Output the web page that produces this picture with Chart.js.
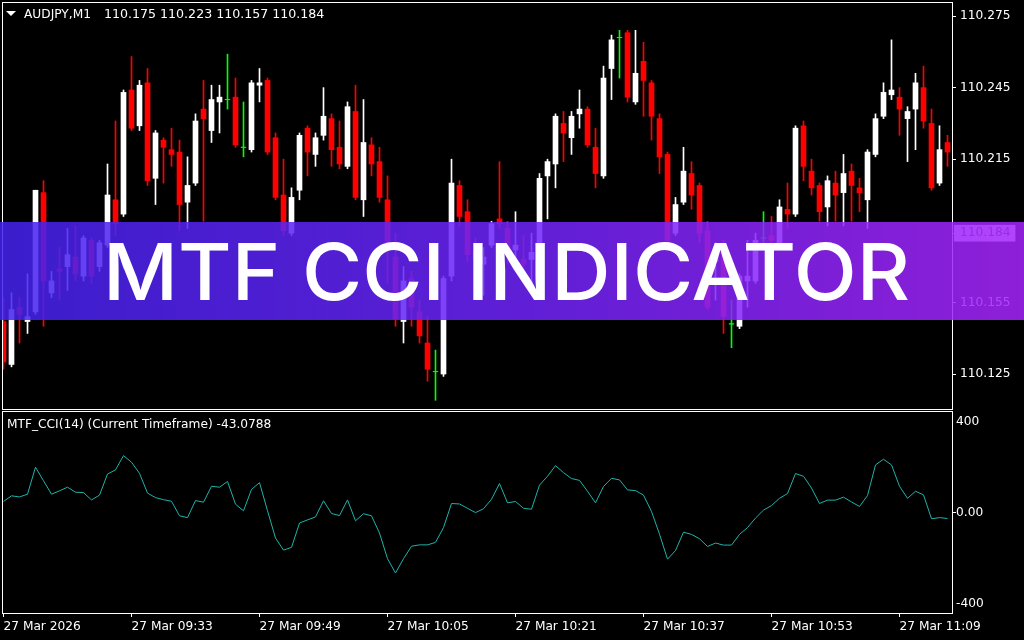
<!DOCTYPE html>
<html>
<head>
<meta charset="utf-8">
<script src="https://cdn.jsdelivr.net/npm/chart.js@4.4.1/dist/chart.umd.min.js"></script>
<style>
    html, body { margin: 0; padding: 0; background: #000; width: 1024px; height: 640px; overflow: hidden; }
    #wrap { position: relative; width: 1024px; height: 640px; }
    canvas { position: absolute; left: 0; }
    #mainChart { top: 0; }
    #cciChart { top: 410px; }
    .lbl { position: absolute; color: #fff; font: 12.2px "DejaVu Sans", sans-serif; line-height: 16px; white-space: pre; }
    #tri { position: absolute; left: 6px; top: 11px; width: 0; height: 0;
           border-left: 5px solid transparent; border-right: 5px solid transparent; border-top: 5px solid #fff; }
    #banner { position: absolute; left: 0; top: 222px; width: 1024px; height: 98px;
              background: linear-gradient(90deg, rgba(68,34,238,0.86) 0%, rgba(110,36,249,0.86) 50%, rgba(166,36,252,0.86) 100%); }
    #bannerText { position: absolute; left: 103px; top: 0; color: #fff; white-space: pre; transform-origin: 0 0; }
</style>
</head>
<body>
<div id="wrap">
    <canvas id="mainChart" width="1024" height="412"></canvas>
    <canvas id="cciChart" width="1024" height="230"></canvas>
    <div id="tri"></div>
    <div class="lbl" style="left:24px; top:6px;">AUDJPY,M1</div>
    <div class="lbl" style="left:104px; top:6px; font-size:12.6px;">110.175 110.223 110.157 110.184</div>
    <div class="lbl" style="left:7px; top:416px;">MTF_CCI(14) (Current Timeframe) -43.0788</div>
    <div id="banner"><div id="bannerText">MTF CCI INDICATOR</div></div>
</div>
<script>
// AUDJPY M1 bars, 09:17 .. 11:15
const opens = [
    110.147, 110.129, 110.153, 110.147, 110.151, 110.201, 110.159, 110.169, 110.170, 110.174,
    110.166, 110.181, 110.170, 110.179, 110.198, 110.192, 110.244, 110.229, 110.247, 110.207,
    110.223, 110.219, 110.218, 110.197, 110.205, 110.236, 110.227, 110.239, 110.240, 110.241,
    110.220, 110.219, 110.246, 110.248, 110.224, 110.200, 110.184, 110.202, 110.228, 110.217,
    110.225, 110.232, 110.220, 110.212, 110.235, 110.198, 110.221, 110.214, 110.198, 110.174,
    110.147, 110.165, 110.151, 110.138, 110.126, 110.125, 110.166, 110.204, 110.193, 110.177,
    110.171, 110.179, 110.190, 110.186, 110.177, 110.173, 110.173, 110.176, 110.208, 110.213,
    110.230, 110.224, 110.234, 110.236, 110.220, 110.208, 110.253, 110.266, 110.268, 110.239,
    110.256, 110.247, 110.232, 110.217, 110.184, 110.197, 110.209, 110.204, 110.185, 110.172,
    110.176, 110.146, 110.145, 110.164, 110.164, 110.182, 110.183, 110.180, 110.194, 110.192,
    110.229, 110.210, 110.204, 110.195, 110.205, 110.201, 110.210, 110.203, 110.198, 110.217,
    110.233, 110.242, 110.241, 110.232, 110.236, 110.245, 110.230, 110.205, 110.222
];
const highs = [
    110.157, 110.159, 110.157, 110.167, 110.202, 110.206, 110.168, 110.178, 110.186, 110.187,
    110.183, 110.182, 110.181, 110.213, 110.231, 110.244, 110.258, 110.248, 110.253, 110.227,
    110.224, 110.228, 110.223, 110.216, 110.234, 110.248, 110.246, 110.246, 110.259, 110.249,
    110.239, 110.248, 110.253, 110.249, 110.226, 110.215, 110.203, 110.226, 110.229, 110.226,
    110.245, 110.234, 110.231, 110.239, 110.246, 110.240, 110.224, 110.220, 110.208, 110.184,
    110.170, 110.168, 110.156, 110.149, 110.135, 110.166, 110.215, 110.206, 110.198, 110.182,
    110.178, 110.189, 110.214, 110.189, 110.193, 110.183, 110.184, 110.209, 110.215, 110.234,
    110.235, 110.235, 110.244, 110.237, 110.228, 110.254, 110.267, 110.269, 110.269, 110.269,
    110.264, 110.248, 110.234, 110.218, 110.199, 110.220, 110.214, 110.205, 110.189, 110.180,
    110.181, 110.156, 110.167, 110.181, 110.184, 110.193, 110.191, 110.198, 110.205, 110.229,
    110.231, 110.215, 110.205, 110.208, 110.210, 110.217, 110.213, 110.207, 110.219, 110.234,
    110.247, 110.265, 110.245, 110.237, 110.251, 110.254, 110.236, 110.229, 110.225
];
const lows = [
    110.127, 110.128, 110.138, 110.142, 110.150, 110.145, 110.157, 110.156, 110.160, 110.164,
    110.164, 110.163, 110.168, 110.178, 110.183, 110.191, 110.227, 110.227, 110.204, 110.196,
    110.205, 110.212, 110.185, 110.186, 110.204, 110.189, 110.222, 110.226, 110.236, 110.220,
    110.216, 110.218, 110.239, 110.217, 110.198, 110.183, 110.183, 110.198, 110.208, 110.212,
    110.223, 110.212, 110.211, 110.211, 110.198, 110.191, 110.208, 110.197, 110.163, 110.145,
    110.138, 110.145, 110.138, 110.122, 110.114, 110.124, 110.164, 110.187, 110.172, 110.157,
    110.158, 110.178, 110.186, 110.171, 110.169, 110.163, 110.161, 110.175, 110.190, 110.203,
    110.214, 110.217, 110.228, 110.220, 110.203, 110.207, 110.240, 110.249, 110.239, 110.238,
    110.233, 110.223, 110.209, 110.180, 110.183, 110.196, 110.194, 110.180, 110.152, 110.156,
    110.142, 110.136, 110.144, 110.153, 110.163, 110.180, 110.171, 110.179, 110.186, 110.191,
    110.206, 110.200, 110.189, 110.187, 110.189, 110.187, 110.189, 110.193, 110.186, 110.216,
    110.232, 110.240, 110.225, 110.214, 110.219, 110.228, 110.202, 110.204, 110.212
];
const closes = [
    110.130, 110.152, 110.150, 110.149, 110.202, 110.164, 110.164, 110.168, 110.175, 110.167,
    110.182, 110.166, 110.180, 110.200, 110.188, 110.243, 110.228, 110.246, 110.206, 110.226,
    110.220, 110.217, 110.196, 110.204, 110.231, 110.232, 110.240, 110.241, 110.240, 110.221,
    110.220, 110.247, 110.247, 110.218, 110.199, 110.185, 110.199, 110.225, 110.218, 110.224,
    110.233, 110.219, 110.213, 110.237, 110.199, 110.222, 110.213, 110.199, 110.179, 110.148,
    110.164, 110.153, 110.141, 110.127, 110.126, 110.165, 110.205, 110.191, 110.175, 110.173,
    110.174, 110.188, 110.188, 110.176, 110.179, 110.171, 110.176, 110.207, 110.214, 110.233,
    110.226, 110.233, 110.236, 110.221, 110.209, 110.249, 110.265, 110.266, 110.241, 110.251,
    110.248, 110.233, 110.216, 110.181, 110.196, 110.210, 110.200, 110.184, 110.153, 110.175,
    110.149, 110.146, 110.166, 110.166, 110.181, 110.182, 110.181, 110.195, 110.192, 110.228,
    110.212, 110.203, 110.193, 110.206, 110.200, 110.209, 110.204, 110.201, 110.218, 110.232,
    110.243, 110.244, 110.236, 110.235, 110.247, 110.231, 110.203, 110.219, 110.218
];
// MTF_CCI(14) per bar
const cciValues = [
    50, 75, 70, 82, 201, 141, 82, 97, 113, 91,
    89, 57, 78, 171, 189, 252, 223, 174, 87, 67,
    58, 51, -13, -21, 54, 47, 117, 113, 138, 38,
    9, 103, 133, 9, -111, -164, -152, -45, -31, -18,
    53, -3, -12, 57, -35, -4, -13, -89, -202, -265,
    -202, -147, -141, -141, -130, -65, 41, 39, 20, 1,
    18, 60, 129, 44, 50, 20, 16, 122, 161, 208,
    177, 151, 143, 95, 44, 116, 152, 145, 101, 98,
    78, 6, -94, -204, -166, -85, -95, -114, -148, -133,
    -142, -142, -95, -65, -23, 12, 32, 64, 85, 173,
    161, 109, 41, 56, 56, 69, 48, 28, 76, 211,
    236, 211, 117, 64, 95, 79, -26, -21, -25
];
const timeLabels = ["27 Mar 2026", "27 Mar 09:33", "27 Mar 09:49", "27 Mar 10:05",
                    "27 Mar 10:21", "27 Mar 10:37", "27 Mar 10:53", "27 Mar 11:09"];
const timeTickBars = [0, 16, 32, 48, 64, 80, 96, 112];
const priceTicks = [110.275, 110.245, 110.215, 110.184, 110.155, 110.125];
const currentPrice = 110.184;
const cciTicks = [400, 0, -400];

const BULL = '#ffffff', BEAR = '#ff0000', DOJI = '#00ff00', CCI_COLOR = '#20b2aa';
const labelFont = { family: '"DejaVu Sans", sans-serif', size: 12.2 };
// 8 px per bar over the 949 px plot width
const xMin = -0.0625, xMax = 118.5625;

const bars = opens.map((_, i) => i);
const candleColor = i => closes[i] > opens[i] ? BULL : (closes[i] < opens[i] ? BEAR : DOJI);

// keep chart.js from shrinking the plot to make room for edge labels
function fixAxis(size) {
    return s => {
        if (s.isHorizontal()) s.height = size; else s.width = size;
        s.paddingTop = 0; s.paddingBottom = 0; s.paddingLeft = 0; s.paddingRight = 0;
    };
}

const paneBorder = {
    id: 'paneBorder',
    afterDraw(chart) {
        const a = chart.chartArea, ctx = chart.ctx;
        ctx.save();
        ctx.strokeStyle = '#ffffff';
        ctx.lineWidth = 1;
        ctx.strokeRect(a.left - 0.5, a.top - 0.5, a.right - a.left + 1, a.bottom - a.top + 1);
        ctx.restore();
    }
};

Chart.defaults.animation = false;

new Chart(document.getElementById('mainChart'), {
    type: 'bar',
    data: {
        datasets: [
            {
                type: 'line',
                data: bars.filter(i => opens[i] === closes[i]).map(i => ({ x: i, y: closes[i] })),
                showLine: false,
                pointStyle: 'line',
                pointRadius: 2.5,
                pointBorderWidth: 1,
                pointBorderColor: DOJI,
                order: 0
            },
            {
                data: bars.map(i => ({ x: i, y: [opens[i], closes[i]] })),
                backgroundColor: bars.map(candleColor),
                barThickness: 5,
                grouped: false,
                borderWidth: 0,
                order: 1
            },
            {
                data: bars.map(i => ({ x: i, y: [lows[i], highs[i]] })),
                backgroundColor: bars.map(candleColor),
                barThickness: 1,
                grouped: false,
                borderWidth: 0,
                order: 2
            }
        ]
    },
    options: {
        responsive: false,
        layout: { padding: { left: 3, top: 3, right: 0, bottom: 3 }, autoPadding: false },
        plugins: { legend: { display: false }, tooltip: { enabled: false } },
        scales: {
            x: { type: 'linear', min: xMin, max: xMax, offset: false, display: false },
            y: {
                position: 'right',
                bounds: 'data',
                min: 110.11034,
                max: 110.28045,
                afterFit: fixAxis(72),
                afterBuildTicks: s => { s.ticks = priceTicks.map(v => ({ value: v })); },
                border: { display: false },
                grid: { drawOnChartArea: false, tickLength: 4, color: '#ffffff' },
                ticks: {
                    padding: 4,
                    color: ctx => ctx.tick && ctx.tick.value === currentPrice ? '#555555' : '#ffffff',
                    font: labelFont,
                    callback: v => v.toFixed(3),
                    showLabelBackdrop: ctx => !!ctx.tick && ctx.tick.value === currentPrice,
                    backdropColor: '#ffffff',
                    backdropPadding: { left: 6, right: 5, top: 1, bottom: 1 }
                }
            }
        }
    },
    plugins: [paneBorder]
});

new Chart(document.getElementById('cciChart'), {
    type: 'line',
    data: {
        datasets: [{
            data: cciValues.map((v, i) => ({ x: i, y: v })),
            borderColor: CCI_COLOR,
            borderWidth: 1,
            pointRadius: 0,
            tension: 0
        }]
    },
    options: {
        responsive: false,
        layout: { padding: { left: 3, top: 2, right: 0, bottom: 0 }, autoPadding: false },
        plugins: { legend: { display: false }, tooltip: { enabled: false } },
        scales: {
            x: {
                type: 'linear',
                min: xMin,
                max: xMax,
                offset: false,
                afterFit: fixAxis(27),
                afterBuildTicks: s => { s.ticks = timeTickBars.map(v => ({ value: v })); },
                border: { display: false },
                grid: { drawOnChartArea: false, tickLength: 4, color: '#ffffff' },
                ticks: {
                    autoSkip: false,
                    maxRotation: 0,
                    align: 'start',
                    padding: 3,
                    color: '#ffffff',
                    font: labelFont,
                    callback: (v, idx) => timeLabels[idx]
                }
            },
            y: {
                position: 'right',
                bounds: 'data',
                min: -441,
                max: 444,
                afterFit: fixAxis(72),
                afterBuildTicks: s => { s.ticks = cciTicks.map(v => ({ value: v })); },
                border: { display: false },
                grid: {
                    drawOnChartArea: false,
                    tickLength: 4,
                    color: ctx => ctx.tick && ctx.tick.value === 0 ? '#ffffff' : 'rgba(0,0,0,0)'
                },
                ticks: {
                    padding: 0,
                    color: '#ffffff',
                    font: labelFont,
                    callback: v => v === 0 ? '0.00' : String(v)
                }
            }
        }
    },
    plugins: [paneBorder]
});

// banner caption: cap height ~57px, baseline at y=300, spanning x 103..910
const bt = document.getElementById('bannerText');
const fam = '"Inter", "Noto Sans", sans-serif';
const mctx = document.createElement('canvas').getContext('2d');
mctx.font = '500 100px ' + fam;
const capRatio = mctx.measureText('M').actualBoundingBoxAscent / 100;
const fs = 57 / capRatio;
mctx.font = '500 ' + fs.toFixed(2) + 'px ' + fam;
const m = mctx.measureText(bt.textContent);
const asc = m.fontBoundingBoxAscent, desc = m.fontBoundingBoxDescent;
bt.style.font = '500 ' + fs.toFixed(2) + 'px ' + fam;
bt.style.lineHeight = (asc + desc).toFixed(2) + 'px';
bt.style.top = (300 - 222 - asc).toFixed(2) + 'px';
bt.style.transform = 'scaleX(' + (807 / m.width).toFixed(4) + ')';
</script>
</body>
</html>
